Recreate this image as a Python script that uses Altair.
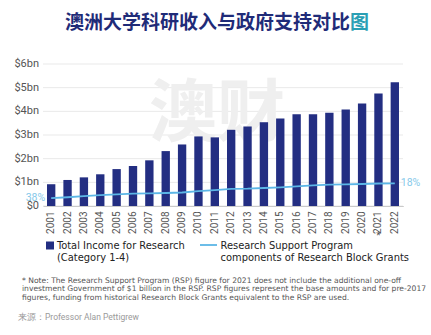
import altair as alt
import pandas as pd

# ---- data ----
years = [str(y) for y in range(2001, 2023)]
income = [0.92, 1.10, 1.21, 1.34, 1.56, 1.69, 1.93, 2.32, 2.60, 2.94, 2.90,
          3.22, 3.36, 3.54, 3.70, 3.88, 3.88, 3.94, 4.08, 4.33, 4.75, 5.23]
rsp = [0.33, 0.37, 0.42, 0.46, 0.49, 0.52, 0.53, 0.55, 0.57, 0.63, 0.67,
       0.72, 0.73, 0.76, 0.79, 0.83, 0.87, 0.90, 0.91, 0.93, 0.95, 0.96]
pct_years = ["2001", "2022"]
pct_labels = ["38%", "18%"]
y_ticks = [0, 1, 2, 3, 4, 5, 6]
y_tick_labels = ["$0", "$1bn", "$2bn", "$3bn", "$4bn", "$5bn", "$6bn"]

title_main = "澳洲大学科研收入与政府支持对比"
title_last = "图"
legend_bar = ["Total Income for Research", "(Category 1-4)"]
legend_line = ["Research Support Program", "components of Research Block Grants"]
note_lines = [
    "* Note: The Research Support Program (RSP) figure for 2021 does not include the additional one-off",
    "investment Government of $1 billion in the RSP. RSP figures represent the base amounts and for pre-2017",
    "figures, funding from historical Research Block Grants equivalent to the RSP are used.",
]
source = "来源：Professor Alan Pettigrew"

NAVY = "#232e82"
LIGHT = "#5cb6e6"
LIGHT_TXT = "#86c9ea"
LEG_FONT = "DejaVu Sans Condensed, Roboto Condensed, Liberation Sans Narrow, Roboto"

df = pd.DataFrame({"year": years, "income": income, "rsp": rsp})
pct_df = pd.DataFrame({
    "year": pct_years,
    "rsp": [rsp[years.index(y)] for y in pct_years],
    "label": pct_labels,
})
ticks_df = pd.DataFrame({"v": y_ticks, "lab": y_tick_labels})

xscale = alt.Scale(domain=years, paddingInner=0.49, paddingOuter=0.245)
yscale = alt.Scale(domain=[0, 6], nice=False)

x_axis = alt.Axis(labelAngle=270, labelFontSize=10, labelColor="#555555",
                  labelFont="Roboto", ticks=False, domainColor="#aaaaaa",
                  labelPadding=5, grid=False)


def X():
    return alt.X("year:N", scale=xscale, title=None, axis=x_axis)


def Y(field):
    return alt.Y(field, scale=yscale, title=None, axis=None)


one = alt.Data(values=[{}])


def txt(text, x, y, size, color, font="Roboto", align="left", baseline="middle", weight="normal", opacity=1.0):
    return alt.Chart(one).mark_text(
        text=text, fontSize=size, color=color, font=font, align=align,
        baseline=baseline, fontWeight=weight, opacity=opacity,
    ).encode(x=alt.value(x), y=alt.value(y))


# y gridlines and labels, drawn from the tick list through the y scale
grid = alt.Chart(ticks_df).mark_rule(color="#e9e9e9", strokeWidth=1).encode(y=Y("v:Q"))
ylabels = alt.Chart(ticks_df).mark_text(
    align="right", baseline="middle", fontSize=11, color="#555555", font="Roboto"
).encode(y=Y("v:Q"), x=alt.value(-4), text="lab:N")

watermark = txt("澳财", 174, 52, 68, "#efefef", font="Noto Sans CJK SC", align="center", weight="bold")

bars = alt.Chart(df).mark_bar(color=NAVY).encode(x=X(), y=Y("income:Q"))

line = alt.Chart(df).mark_line(color=LIGHT, strokeWidth=1.8).encode(x=X(), y=Y("rsp:Q"))

pct_left = alt.Chart(pct_df.iloc[[0]]).mark_text(
    align="right", dx=-6, fontSize=10.5, color=LIGHT_TXT, font="Roboto", baseline="middle"
).encode(x=X(), y=Y("rsp:Q"), text="label:N")

pct_right = alt.Chart(pct_df.iloc[[1]]).mark_text(
    align="left", dx=6, fontSize=10.5, color=LIGHT_TXT, font="Roboto", baseline="middle"
).encode(x=X(), y=Y("rsp:Q"), text="label:N")

asterisk = alt.Chart(one).mark_text(text="*", fontSize=10, color="#555555", font="Roboto").encode(
    x=alt.datum("2021"),
    y=alt.value(172),
)

TS = 19
title1 = txt(title_main, 22, -41.5, TS, "#1f2b78", font="Noto Sans CJK SC", weight="bold")
title2 = txt(title_last, 22 + TS * 15, -41.5, TS, "#2a9fb4", font="Noto Sans CJK SC", weight="bold")

LS = 11
leg_sq = alt.Chart(one).mark_square(color=NAVY, size=64, opacity=1).encode(
    x=alt.value(7), y=alt.value(181.5))
leg_t1 = txt(legend_bar[0], 14, 182, LS, "#222222", font=LEG_FONT)
leg_t2 = txt(legend_bar[1], 14, 194, LS, "#222222", font=LEG_FONT)
leg_rule = alt.Chart(one).mark_rule(color=LIGHT, strokeWidth=1.8).encode(
    x=alt.value(157), x2=alt.value(174), y=alt.value(181))
leg_t3 = txt(legend_line[0], 177.5, 182, LS, "#222222", font=LEG_FONT)
leg_t4 = txt(legend_line[1], 177.5, 194, LS, "#222222", font=LEG_FONT)

notes = [txt(s, -21, 216.7 + i * 8.5, 7.6, "#555555", font="DejaVu Sans") for i, s in enumerate(note_lines)]
src = txt(source, -25, 252.7, 8.5, "#9a9a9a", font="Roboto")

chart = alt.layer(
    grid, ylabels, watermark, bars, line, pct_left, pct_right, asterisk,
    title1, title2, leg_sq, leg_t1, leg_t2, leg_rule, leg_t3, leg_t4, *notes, src,
).properties(
    width=360, height=142,
    autosize=alt.AutoSizeParams(type="none"),
    padding={"left": 43, "top": 64, "right": 28, "bottom": 129},
    background="white",
).configure_view(stroke=None)

chart.save("out.html", embed_options={"renderer": "svg", "actions": False})
